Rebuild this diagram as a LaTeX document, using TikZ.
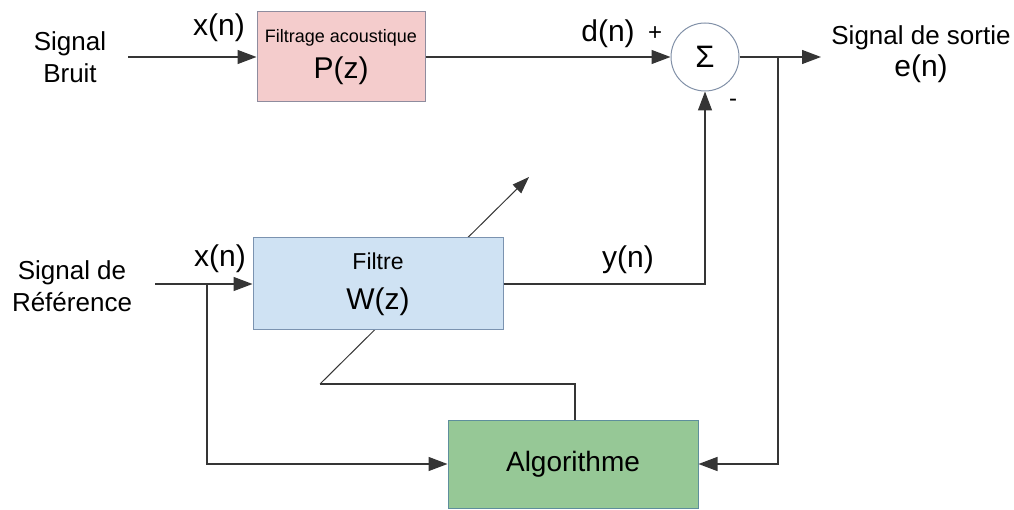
\documentclass[tikz,border=0pt]{standalone}
\usepackage{fontspec}
\setmainfont{Liberation Sans}
\usepackage{tikz}
\usetikzlibrary{arrows.meta}

\definecolor{trait}{HTML}{353535}
\definecolor{rosefiltre}{HTML}{F4CCCC}
\definecolor{bordrose}{HTML}{8E8C9E}
\definecolor{bleufiltre}{HTML}{CFE2F3}
\definecolor{bordbleu}{HTML}{7B93B0}
\definecolor{vertalgo}{HTML}{96C896}
\definecolor{bordvert}{HTML}{5E8E9C}
\definecolor{bordsomme}{HTML}{8291A8}

\tikzset{
  fleche/.style={draw=trait,line width=1.3pt,-{Triangle[length=19pt,width=14pt]}},
  flechefine/.style={draw=trait,line width=1pt,-{Triangle[length=17pt,width=12pt]}},
  ligne/.style={draw=trait,line width=1.3pt},
  bloc/.style={draw=#1,line width=1pt,align=center,inner sep=0pt},
  texte/.style={align=center,inner sep=0pt,font=\fontsize{26}{32}\selectfont},
  etiq/.style={inner sep=0pt,font=\fontsize{30}{32}\selectfont},
}

\begin{document}
\begin{tikzpicture}[x=1pt,y=-1pt]
  \useasboundingbox (0,0) rectangle (1014,510);

  \coordinate (entreebruit) at (128,57);
  \coordinate (entreeref) at (155,284);
  \coordinate (finsortie) at (821,57);
  \coordinate (brancheD) at (778,57);
  \coordinate (brancheG) at (207,284);
  \coordinate (retour) at (575,384);
  \coordinate (coin) at (320,384);
  \coordinate (pointe) at (529,177);

  % adaptation : passe sous le filtre
  \draw[flechefine] (coin) -- (pointe);

  % blocs
  \node[bloc=bordrose,fill=rosefiltre,minimum width=168pt,minimum height=90pt,
        font=\fontsize{18}{36}\selectfont] (pz) at (341,57)
        {Filtrage acoustique\\{\fontsize{30}{36}\selectfont P(z)}};
  \node[draw=bordsomme,line width=1pt,fill=white,circle,minimum size=68pt,inner sep=0pt,
        font=\fontsize{31}{31}\selectfont] (somme) at (705,57) {Σ};
  \node[bloc=bordbleu,fill=bleufiltre,minimum width=250pt,minimum height=92pt,
        font=\fontsize{23}{40}\selectfont] (wz) at (378,284)
        {Filtre\\{\fontsize{30}{40}\selectfont W(z)}};
  \node[bloc=bordvert,fill=vertalgo,minimum width=250pt,minimum height=88pt,
        font=\fontsize{28}{30}\selectfont] (algo) at (573,464) {Algorithme};

  % textes
  \node[texte] (bruit) at (70,57) {Signal\\Bruit};
  \node[texte] (ref) at (72,286) {Signal de\\Référence};
  \node[texte] (sortie) at (921,54) {Signal de sortie\\{\fontsize{30}{32}\selectfont e(n)}};
  \node[etiq] (xn1) at (219,28) {x(n)};
  \node[etiq] (dn) at (608,34) {d(n)};
  \node[etiq,font=\fontsize{24}{24}\selectfont] (plus) at (655,34) {+};
  \node[etiq,font=\fontsize{24}{24}\selectfont] (moins) at (733,103) {-};
  \node[etiq] (xn2) at (220,259) {x(n)};
  \node[etiq] (yn) at (628,260) {y(n)};

  % liaisons
  \draw[fleche] (entreebruit) -- (pz.west);
  \draw[fleche] (pz.east) -- (somme.west);
  \draw[fleche] (somme.east) -- (finsortie);
  \draw[fleche] (entreeref) -- (wz.west);
  \draw[fleche] (wz.east) -| (somme.south);
  \draw[fleche] (brancheD) |- (algo.east);
  \draw[fleche] (brancheG) |- (algo.west);
  \draw[ligne] (algo.north -| retour) -- (retour) -- (coin);
\end{tikzpicture}
\end{document}
